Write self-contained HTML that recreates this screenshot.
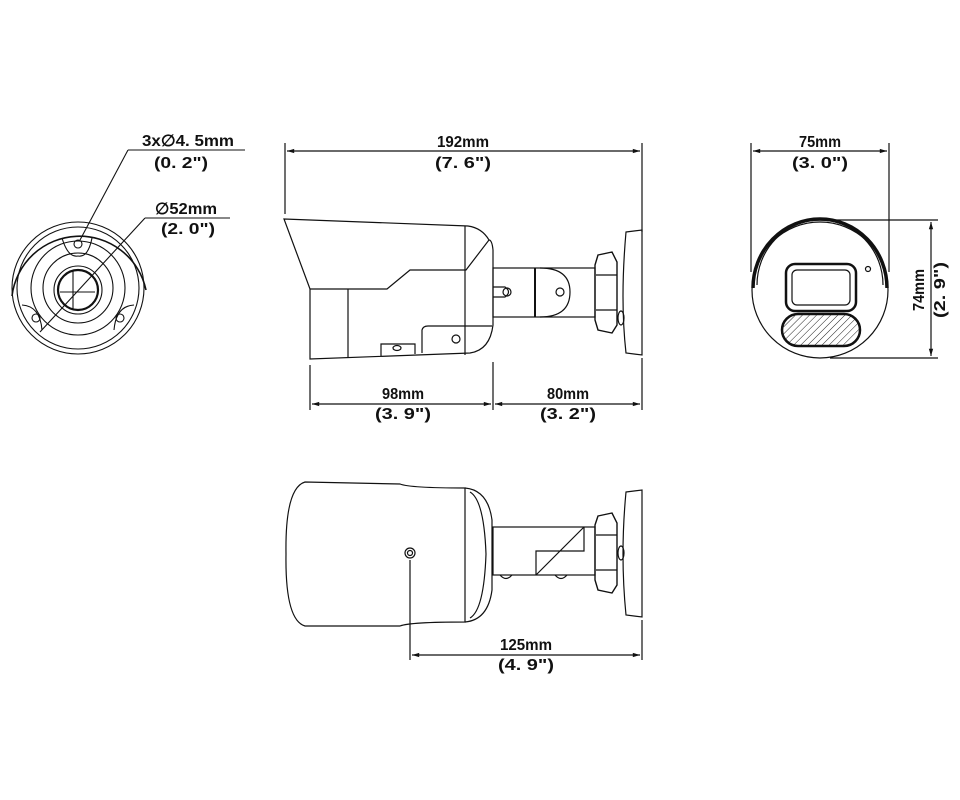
<!DOCTYPE html>
<html><head><meta charset="utf-8"><style>
html,body{margin:0;padding:0;background:#fff;width:960px;height:800px;overflow:hidden}
svg text{font-family:"Liberation Sans",sans-serif;font-size:16px;font-weight:bold;fill:#111;stroke:none;text-anchor:middle}
</style></head><body>
<svg width="960" height="800" viewBox="0 0 960 800" xmlns="http://www.w3.org/2000/svg" fill="none" stroke="#111" stroke-width="1.2">
<defs>
<marker id="a" viewBox="0 0 10 10" refX="10" refY="5" markerWidth="8" markerHeight="6" orient="auto-start-reverse"><path d="M0,2 L10,5 L0,8" fill="#111" stroke="none"/></marker>
<pattern id="h" width="5" height="5" patternUnits="userSpaceOnUse" patternTransform="rotate(45)"><line x1="0" y1="0" x2="0" y2="5" stroke="#222" stroke-width="1"/></pattern>
</defs>

<!-- LEFT VIEW -->
<g stroke-width="1.1">
<circle cx="78" cy="288" r="66"/>
<circle cx="78" cy="288" r="61"/>
<path d="M12,296 A68,68 0 0 1 146,290" stroke-width="1.6"/>
<circle cx="78" cy="288" r="47"/>
<circle cx="78" cy="288" r="35"/>
<circle cx="78" cy="290" r="24"/>
<circle cx="78" cy="290" r="20" stroke-width="2.2"/>
<line x1="73" y1="271" x2="73" y2="310"/><line x1="60" y1="292" x2="95" y2="292"/>
<circle cx="78" cy="244" r="4"/>
<path d="M62,238 Q68,258 78,256 Q88,258 92,238"/>
<circle cx="36" cy="318" r="4"/><circle cx="120" cy="318" r="4"/>
<path d="M22,305 Q40,306 42,330"/><path d="M134,305 Q116,306 114,330"/>
<line x1="128" y1="150" x2="80" y2="240"/>
<line x1="128" y1="150" x2="245" y2="150"/>
<line x1="145" y1="218" x2="40" y2="332"/>
<line x1="145" y1="218" x2="230" y2="218"/>
</g>
<text x="188" y="146" textLength="92" lengthAdjust="spacingAndGlyphs">3x∅4. 5mm</text>
<text x="181" y="168" textLength="54" lengthAdjust="spacingAndGlyphs">(0. 2")</text>
<text x="186" y="214" textLength="62" lengthAdjust="spacingAndGlyphs">∅52mm</text>
<text x="188" y="234" textLength="54" lengthAdjust="spacingAndGlyphs">(2. 0")</text>

<!-- SIDE VIEW -->
<g stroke-width="1.2">
<line x1="285" y1="143" x2="285" y2="214"/><line x1="642" y1="143" x2="642" y2="232"/>
<line x1="287" y1="151" x2="640" y2="151" marker-start="url(#a)" marker-end="url(#a)"/>
<path d="M284,219 L468,226 Q482,228 489,240 L466,270 L410,270 L387,289 L310,289 Z"/>
<path d="M310,289 L310,359 L470,353 Q490,350 493,325 L493,250 Q492,240 489,240"/>
<line x1="465" y1="226" x2="465" y2="355"/>
<line x1="348" y1="289" x2="348" y2="358"/>
<path d="M422,353 L422,330 Q423,326 428,326 L492,326"/>
<path d="M381,356 L381,344 L415,344 L415,354"/>
<ellipse cx="397" cy="348" rx="4" ry="2.5"/><circle cx="456" cy="339" r="4"/>
<rect x="493" y="268" width="102" height="49"/>
<line x1="535" y1="268" x2="535" y2="317" stroke-width="2"/>
<path d="M540,268 Q570,268 570,292 Q570,317 540,317"/>
<path d="M493,287 L505,287 Q512,292 505,297 L493,297"/>
<circle cx="507" cy="292" r="4"/><circle cx="560" cy="292" r="4"/>
<path d="M598,255 L612,252 L617,262 L617,325 L612,333 L598,330 L595,320 L595,265 Z" stroke-width="1.4"/>
<line x1="596" y1="275" x2="617" y2="275"/><line x1="596" y1="310" x2="617" y2="310"/>
<path d="M626,232 L642,230 L642,355 L626,353 Q620,300 626,232 Z"/>
<ellipse cx="621" cy="318" rx="3" ry="7"/>
<line x1="310" y1="365" x2="310" y2="410"/><line x1="493" y1="362" x2="493" y2="410"/><line x1="642" y1="358" x2="642" y2="410"/>
<line x1="312" y1="404" x2="491" y2="404" marker-start="url(#a)" marker-end="url(#a)"/>
<line x1="495" y1="404" x2="640" y2="404" marker-start="url(#a)" marker-end="url(#a)"/>
</g>
<text x="463" y="147" textLength="52" lengthAdjust="spacingAndGlyphs">192mm</text>
<text x="463" y="168" textLength="56" lengthAdjust="spacingAndGlyphs">(7. 6")</text>
<text x="403" y="399" textLength="42" lengthAdjust="spacingAndGlyphs">98mm</text>
<text x="403" y="419" textLength="56" lengthAdjust="spacingAndGlyphs">(3. 9")</text>
<text x="568" y="399" textLength="42" lengthAdjust="spacingAndGlyphs">80mm</text>
<text x="568" y="419" textLength="56" lengthAdjust="spacingAndGlyphs">(3. 2")</text>

<!-- FRONT VIEW -->
<g stroke-width="1.2">
<line x1="751" y1="143" x2="751" y2="272"/><line x1="889" y1="143" x2="889" y2="272"/>
<line x1="753" y1="151" x2="887" y2="151" marker-start="url(#a)" marker-end="url(#a)"/>
<circle cx="820" cy="290" r="68"/>
<path d="M753,288 A67,69 0 0 1 887,288" stroke-width="3.5"/>
<path d="M757,285 A63,65 0 0 1 883,285"/>
<rect x="786" y="264" width="70" height="47" rx="9" stroke-width="2.5"/>
<rect x="792" y="270" width="58" height="35" rx="5"/>
<rect x="782" y="314" width="78" height="32" rx="16" fill="url(#h)" stroke-width="2.5"/>
<circle cx="868" cy="269" r="2.5"/>
<line x1="830" y1="220" x2="938" y2="220"/><line x1="830" y1="358" x2="938" y2="358"/>
<line x1="931" y1="222" x2="931" y2="356" marker-start="url(#a)" marker-end="url(#a)"/>
</g>
<text x="820" y="147" textLength="42" lengthAdjust="spacingAndGlyphs">75mm</text>
<text x="820" y="168" textLength="56" lengthAdjust="spacingAndGlyphs">(3. 0")</text>
<text transform="translate(924,290) rotate(-90)" textLength="42" lengthAdjust="spacingAndGlyphs">74mm</text>
<text transform="translate(945,290) rotate(-90)" textLength="56" lengthAdjust="spacingAndGlyphs">(2. 9")</text>

<!-- BOTTOM VIEW -->
<g stroke-width="1.2">
<path d="M305,482 L400,484 Q410,488 465,488 L465,622 Q410,622 400,626 L305,626 Q285,620 286,554 Q285,488 305,482 Z"/>
<path d="M465,488 Q488,490 492,520 L492,590 Q488,620 465,622"/>
<path d="M470,492 Q484,500 486,554 Q484,610 470,618"/>
<rect x="493" y="527" width="102" height="48"/>
<path d="M536,575 L536,551 L584,551 L584,527 M536,575 L584,527"/>
<path d="M500,575 Q506,582 512,575 M555,575 Q561,582 567,575"/>
<circle cx="410" cy="553" r="5"/><circle cx="410" cy="553" r="2.5"/>
<path d="M598,516 L612,513 L617,523 L617,585 L612,593 L598,590 L595,580 L595,525 Z" stroke-width="1.4"/>
<line x1="596" y1="535" x2="617" y2="535"/><line x1="596" y1="570" x2="617" y2="570"/>
<path d="M626,492 L642,490 L642,617 L626,615 Q620,555 626,492 Z"/>
<ellipse cx="621" cy="553" rx="3" ry="7"/>
<line x1="410" y1="560" x2="410" y2="660"/><line x1="642" y1="620" x2="642" y2="660"/>
<line x1="412" y1="655" x2="640" y2="655" marker-start="url(#a)" marker-end="url(#a)"/>
</g>
<text x="526" y="650" textLength="52" lengthAdjust="spacingAndGlyphs">125mm</text>
<text x="526" y="670" textLength="56" lengthAdjust="spacingAndGlyphs">(4. 9")</text>
</svg>
</body></html>
